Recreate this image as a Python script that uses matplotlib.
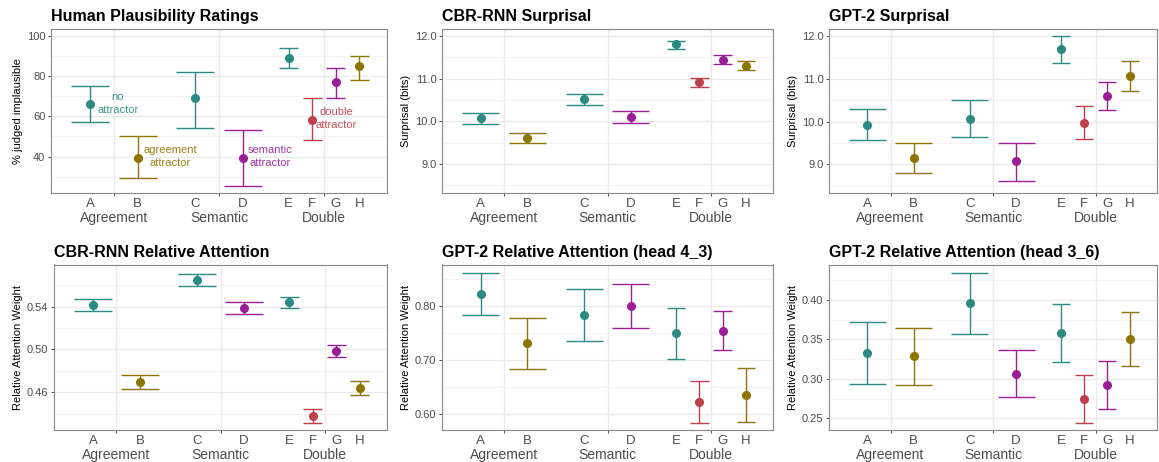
import matplotlib
matplotlib.use("Agg")
import matplotlib.pyplot as plt
from matplotlib.ticker import FixedLocator, MultipleLocator, FormatStrFormatter

plt.rcParams["font.family"] = ["Liberation Sans", "DejaVu Sans"]

# conditions and grouping
conditions = ["A", "B", "C", "D", "E", "F", "G", "H"]
groups = ["Agreement", "Semantic", "Double"]
cond_group = [0, 0, 1, 1, 2, 2, 2, 2]
cond_type = ["none", "agreement", "none", "semantic", "none", "double", "semantic", "agreement"]

type_colors = {
    "none": "#2B8A83",
    "agreement": "#8C7500",
    "semantic": "#9A1F97",
    "double": "#BF3F4C",
}

# Human plausibility ratings
human_mean = [65.9, 39.2, 68.9, 39.2, 88.9, 58.0, 77.0, 84.9]
human_lo = [57.0, 29.2, 54.1, 25.4, 83.7, 48.2, 69.0, 77.9]
human_hi = [74.8, 50.2, 81.9, 53.0, 93.7, 69.0, 83.7, 89.9]
human_ticks = [40, 60, 80, 100]

# CBR-RNN surprisal
rnn_surp_mean = [10.07, 9.61, 10.51, 10.10, 11.80, 10.91, 11.44, 11.30]
rnn_surp_lo = [9.945, 9.49, 10.37, 9.97, 11.69, 10.80, 11.34, 11.20]
rnn_surp_hi = [10.195, 9.73, 10.63, 10.23, 11.89, 11.02, 11.55, 11.40]
surp_ticks = [9.0, 10.0, 11.0, 12.0]

# GPT-2 surprisal
gpt_surp_mean = [9.93, 9.16, 10.07, 9.07, 11.70, 9.98, 10.60, 11.08]
gpt_surp_lo = [9.56, 8.80, 9.65, 8.62, 11.38, 9.59, 10.27, 10.73]
gpt_surp_hi = [10.30, 9.51, 10.50, 9.51, 12.00, 10.37, 10.94, 11.42]

# CBR-RNN relative attention
rnn_att_mean = [0.5419, 0.4699, 0.5645, 0.5391, 0.5440, 0.4377, 0.4988, 0.4643]
rnn_att_lo = [0.5360, 0.4634, 0.5589, 0.5335, 0.5384, 0.4315, 0.4929, 0.4575]
rnn_att_hi = [0.5471, 0.4761, 0.5701, 0.5443, 0.5490, 0.4439, 0.5043, 0.4705]
rnn_att_ticks = [0.46, 0.50, 0.54]

# GPT-2 relative attention, head 4_3
gpt43_mean = [0.822, 0.731, 0.783, 0.800, 0.750, 0.623, 0.754, 0.635]
gpt43_lo = [0.783, 0.683, 0.735, 0.760, 0.702, 0.584, 0.718, 0.586]
gpt43_hi = [0.861, 0.779, 0.831, 0.841, 0.797, 0.662, 0.791, 0.685]
gpt43_ticks = [0.60, 0.70, 0.80]

# GPT-2 relative attention, head 3_6
gpt36_mean = [0.3332, 0.3286, 0.3958, 0.3067, 0.3584, 0.2748, 0.2924, 0.3504]
gpt36_lo = [0.2941, 0.2924, 0.3571, 0.2765, 0.3218, 0.2445, 0.2618, 0.3168]
gpt36_hi = [0.3727, 0.3647, 0.4345, 0.3370, 0.3950, 0.3046, 0.3227, 0.3845]
gpt36_ticks = [0.25, 0.30, 0.35, 0.40]

# annotations in the human panel
ann_labels = ["no\nattractor", "agreement\nattractor", "semantic\nattractor", "double\nattractor"]
ann_types = ["none", "agreement", "semantic", "double"]
ann_x = [1.035, 1.532, 2.485, 3.114]
ann_y = [66.2, 40.0, 40.0, 58.9]


def dodge_positions():
    """Position-dodge (width 0.9) of each condition within its group."""
    xs, widths = [], []
    for g in range(len(groups)):
        members = [i for i, cg in enumerate(cond_group) if cg == g]
        n = len(members)
        for k, _ in enumerate(members):
            xs.append(g + 1 + (k - (n - 1) / 2) * 0.9 / n)
            widths.append(0.8 * 0.9 / n)
    return xs, widths


def draw_panel(ax, title, ylabel, mean, lo, hi, ylim, ticks, fmt):
    xs, widths = dodge_positions()
    for x, w, m, l, h, t in zip(xs, widths, mean, lo, hi, cond_type):
        c = type_colors[t]
        ax.vlines(x, l, h, color=c, lw=1.0, zorder=2)
        ax.hlines([l, h], x - w / 2, x + w / 2, color=c, lw=1.0, zorder=2)
        ax.plot(x, m, "o", color=c, ms=5.5, mec=c, zorder=3)

    ax.set_xlim(0.4, 3.6)
    ax.set_ylim(*ylim)
    ax.set_xticks([1, 2, 3])
    ax.set_xticklabels([])
    step = ticks[1] - ticks[0]
    minor = [ticks[0] - step / 2] + [t + step / 2 for t in ticks]
    ax.yaxis.set_major_locator(FixedLocator(ticks))
    ax.yaxis.set_minor_locator(FixedLocator(minor))
    ax.yaxis.set_major_formatter(FormatStrFormatter(fmt))
    ax.tick_params(which="minor", length=0)
    ax.tick_params(which="major", length=2.5, width=0.6, color="#333333",
                   labelsize=8, labelcolor="#4D4D4D", pad=1.5)

    ax.set_axisbelow(True)
    ax.grid(which="major", color="#EBEBEB", lw=1.0)
    ax.grid(which="minor", axis="y", color="#F2F2F2", lw=0.5)
    for s in ax.spines.values():
        s.set_color("#888888")
        s.set_linewidth(0.8)

    ax.set_title(title, loc="left", fontsize=11.5, fontweight="bold", pad=5.5)
    ax.set_ylabel(ylabel, fontsize=8, labelpad=3)

    # condition letters and group names under the axis
    for x, letter in zip(xs, conditions):
        ax.annotate(letter, xy=(x, 0), xycoords=("data", "axes fraction"),
                    xytext=(0, -3.5), textcoords="offset points",
                    ha="center", va="top", fontsize=9.5, color="#4D4D4D")
    for g, name in enumerate(groups):
        ax.annotate(name, xy=(g + 1, 0), xycoords=("data", "axes fraction"),
                    xytext=(0, -13.2), textcoords="offset points",
                    ha="center", va="top", fontsize=10, color="#4D4D4D")


W, H = 1159, 462
fig = plt.figure(figsize=(W / 100, H / 100), dpi=100)


def add_ax(left, right, top, bottom):
    return fig.add_axes([left / W, 1 - bottom / H, (right - left) / W, (bottom - top) / H])


ax1 = add_ax(51, 387, 29, 193)
ax2 = add_ax(442, 773, 29, 193)
ax3 = add_ax(829, 1157, 29, 193)
ax4 = add_ax(54, 387, 264.5, 430)
ax5 = add_ax(442, 773, 264.5, 430)
ax6 = add_ax(829, 1157, 264.5, 430)

draw_panel(ax1, "Human Plausibility Ratings", "% judged implausible",
           human_mean, human_lo, human_hi, (21.9, 103.3), human_ticks, "%d")
draw_panel(ax2, "CBR-RNN Surprisal", "Surprisal (bits)",
           rnn_surp_mean, rnn_surp_lo, rnn_surp_hi, (8.32, 12.16), surp_ticks, "%.1f")
draw_panel(ax3, "GPT-2 Surprisal", "Surprisal (bits)",
           gpt_surp_mean, gpt_surp_lo, gpt_surp_hi, (8.33, 12.17), surp_ticks, "%.1f")
draw_panel(ax4, "CBR-RNN Relative Attention", "Relative Attention Weight",
           rnn_att_mean, rnn_att_lo, rnn_att_hi, (0.4247, 0.5794), rnn_att_ticks, "%.2f")
draw_panel(ax5, "GPT-2 Relative Attention (head 4_3)", "Relative Attention Weight",
           gpt43_mean, gpt43_lo, gpt43_hi, (0.571, 0.877), gpt43_ticks, "%.2f")
draw_panel(ax6, "GPT-2 Relative Attention (head 3_6)", "Relative Attention Weight",
           gpt36_mean, gpt36_lo, gpt36_hi, (0.2353, 0.445), gpt36_ticks, "%.2f")

for label, t, x, y in zip(ann_labels, ann_types, ann_x, ann_y):
    ax1.text(x, y, label, color=type_colors[t], alpha=0.9, fontsize=8,
             ha="center", va="center", linespacing=1.4)

fig.savefig("out.png", dpi=100)
